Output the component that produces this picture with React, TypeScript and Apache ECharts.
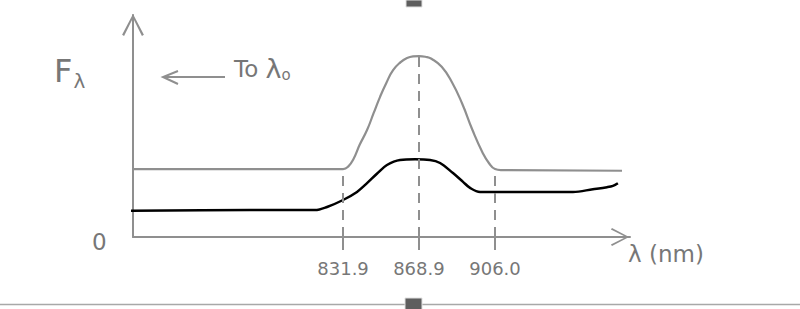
import React, { useEffect, useRef } from "react";
import * as echarts from "echarts";

// wavelengths (nm) marked on the axis
const markedWavelengths = [831.9, 868.9, 906.0];

// upper (grey) profile: wavelength / flux (arbitrary units)
const grayWave = [729.5, 831.9, 834.5, 837.0, 840.0, 843.6, 846.8, 849.9, 853.0, 856.3, 860.0, 863.1, 866.0, 868.9, 872.0, 875.0, 880.0, 885.0, 890.0, 895.0, 900.0, 903.0, 906.0, 909.0, 967.9];
const grayFlux = [1.01, 1.01, 1.05, 1.16, 1.37, 1.59, 1.84, 2.08, 2.29, 2.48, 2.6, 2.66, 2.685, 2.69, 2.68, 2.65, 2.53, 2.3, 1.98, 1.59, 1.25, 1.1, 1.01, 0.995, 0.985];

// lower (black) profile
const blackWave = [727.1, 786.5, 818.2, 824.1, 831.9, 838.7, 843.6, 848.4, 853.3, 859.7, 867.0, 874.3, 879.2, 885.5, 890.4, 893.8, 898.7, 918.2, 944.0, 953.7, 960.6, 963.5, 965.9];
const blackFlux = [0.39, 0.4, 0.4, 0.446, 0.55, 0.67, 0.8, 0.94, 1.07, 1.145, 1.155, 1.145, 1.1, 0.95, 0.82, 0.73, 0.67, 0.67, 0.67, 0.71, 0.74, 0.76, 0.8];

const X_MIN = 729.5;
const X_MAX = 971.8;
const Y_MAX = 3.3;

const PENCIL = "#8f8f8f";
const TEXT = "#777777";
const FONT = "'DejaVu Sans', sans-serif";

const arrowPath = "path://M10,0 L20,19 L18.2,20.2 L10,3.6 L1.8,20.2 L0,19 Z";

export default function App() {
  const ref = useRef<HTMLDivElement>(null);

  useEffect(() => {
    if (!ref.current) return;
    const chart = echarts.init(ref.current, null, { renderer: "svg" });

    const grayData = grayWave.map((w, i) => [w, grayFlux[i]]);
    const blackData = blackWave.map((w, i) => [w, blackFlux[i]]);
    const dashLines = markedWavelengths.map((w) => {
      const idx = grayWave.indexOf(w);
      const top = idx >= 0 ? grayFlux[idx] : 1;
      return [{ coord: [w, 0] }, { coord: [w, top] }];
    });

    chart.setOption({
      animation: false,
      backgroundColor: "#ffffff",
      grid: { left: 133, top: 15, right: 170, bottom: 72 },
      xAxis: {
        type: "value",
        min: X_MIN,
        max: X_MAX,
        name: "λ (nm)",
        nameLocation: "end",
        nameGap: -2,
        nameTextStyle: {
          fontFamily: FONT,
          fontSize: 23,
          color: TEXT,
          align: "left",
          verticalAlign: "top",
          padding: [5, 0, 0, 0],
        },
        splitLine: { show: false },
        axisLine: {
          lineStyle: { color: PENCIL, width: 2 },
          symbol: ["none", arrowPath],
          symbolSize: [18, 22],
          symbolOffset: [0, -10],
        },
        axisTick: {
          show: true,
          customValues: markedWavelengths,
          length: 13,
          lineStyle: { color: PENCIL, width: 2 },
        },
        axisLabel: {
          show: true,
          customValues: markedWavelengths,
          formatter: (v: number) => v.toFixed(1),
          margin: 22,
          fontFamily: FONT,
          fontSize: 18,
          color: TEXT,
        },
      },
      yAxis: {
        type: "value",
        min: 0,
        max: Y_MAX,
        splitLine: { show: false },
        axisTick: { show: false },
        axisLabel: { show: false },
        axisLine: {
          show: true,
          lineStyle: { color: PENCIL, width: 2 },
          symbol: ["none", arrowPath],
          symbolSize: [24, 22],
          symbolOffset: [0, -10],
        },
      },
      series: [
        {
          type: "line",
          data: grayData,
          smooth: 0.5,
          showSymbol: false,
          lineStyle: { color: PENCIL, width: 2.2 },
          z: 2,
          markLine: {
            silent: true,
            symbol: ["none", "none"],
            label: { show: false },
            lineStyle: { color: PENCIL, width: 2, type: [10, 7] },
            data: dashLines,
          },
        },
        {
          type: "line",
          data: blackData,
          smooth: 0.35,
          clip: false,
          showSymbol: false,
          lineStyle: { color: "#000000", width: 2.5 },
          z: 3,
        },
      ],
      graphic: [
        {
          type: "text",
          left: 54,
          top: 55,
          style: {
            text: "{f|F}{s|λ}",
            rich: {
              f: { fontFamily: FONT, fontSize: 32, fill: TEXT },
              s: { fontFamily: FONT, fontSize: 20, fill: TEXT, padding: [20, 0, 0, 1] },
            },
          },
        },
        {
          type: "polyline",
          shape: { points: [[225, 77], [163, 77]] },
          style: { stroke: PENCIL, lineWidth: 2, fill: "none" },
        },
        {
          type: "polyline",
          shape: { points: [[178, 71], [163, 77], [178, 84]] },
          style: { stroke: PENCIL, lineWidth: 2, fill: "none" },
        },
        {
          type: "text",
          left: 234,
          top: 55,
          style: {
            text: "{t|To }{l|λ}{o|o}",
            rich: {
              t: { fontFamily: FONT, fontSize: 23, fill: TEXT },
              l: { fontFamily: FONT, fontSize: 27, fill: TEXT },
              o: { fontFamily: FONT, fontSize: 15, fill: TEXT, padding: [12, 0, 0, 0] },
            },
          },
        },
        {
          type: "text",
          left: 92,
          top: 230,
          style: { text: "0", fontFamily: FONT, fontSize: 23, fill: TEXT },
        },
        {
          type: "line",
          shape: { x1: 0, y1: 304.5, x2: 800, y2: 304.5 },
          style: { stroke: "#a8a8a8", lineWidth: 1.5 },
        },
        {
          type: "rect",
          shape: { x: 406, y: 0, width: 16, height: 7 },
          style: { fill: "#5e5e5e", stroke: "#e0e0e0", lineWidth: 1 },
        },
        {
          type: "rect",
          shape: { x: 405, y: 298, width: 17, height: 12 },
          style: { fill: "#5e5e5e", stroke: "#e0e0e0", lineWidth: 1 },
        },
      ],
    });

    return () => chart.dispose();
  }, []);

  return (
    <div
      ref={ref}
      style={{ position: "fixed", left: 0, top: 0, width: 800, height: 309, background: "#fff" }}
    />
  );
}
